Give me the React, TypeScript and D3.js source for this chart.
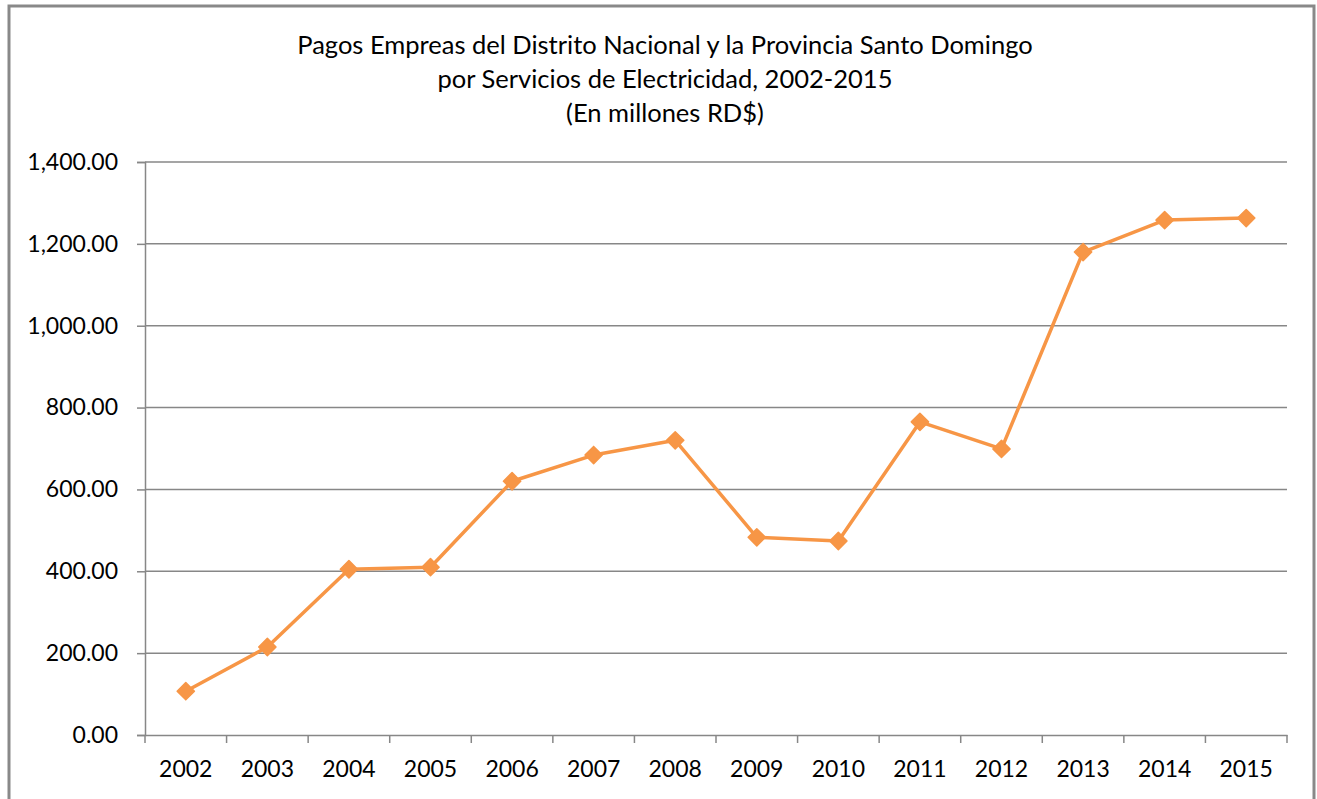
import React, { useEffect, useRef } from "react";
import * as d3 from "d3";

const years = ["2002", "2003", "2004", "2005", "2006", "2007", "2008", "2009", "2010", "2011", "2012", "2013", "2014", "2015"];
const pagos = [107, 215, 405, 410, 620, 684, 720, 483, 474, 765, 699, 1180, 1258, 1263];
const yTicks = [0, 200, 400, 600, 800, 1000, 1200, 1400];
const titleLines = [
  "Pagos Empreas del Distrito Nacional y la Provincia Santo Domingo",
  "por Servicios de Electricidad, 2002-2015",
  "(En millones RD$)",
];

const W = 1317;
const H = 799;
const FONT = "Lato, 'Open Sans', sans-serif";

const App = () => {
  const ref = useRef(null);

  useEffect(() => {
    const svg = d3.select(ref.current);
    svg.selectAll("*").remove();

    const left = 145, right = 1287, top = 162, bottom = 735;
    const x = d3.scaleBand().domain(years).range([left, right]);
    const y = d3.scaleLinear().domain([0, 1400]).range([bottom, top]);
    const grey = "#878787";

    // chart border
    svg.append("rect")
      .attr("x", 9).attr("y", 6)
      .attr("width", 1305).attr("height", 900)
      .attr("fill", "#fff")
      .attr("stroke", "#898989")
      .attr("stroke-width", 3);

    // title
    svg.append("g").selectAll("text").data(titleLines).enter()
      .append("text")
      .attr("x", 665)
      .attr("y", (d, i) => 54 + i * 34)
      .attr("text-anchor", "middle")
      .style("font-family", FONT)
      .style("font-size", "25.5px")
      .attr("fill", "#000")
      .text(d => d);

    // gridlines
    svg.append("g").selectAll("line").data(yTicks.slice(1)).enter()
      .append("line")
      .attr("x1", left).attr("x2", right)
      .attr("y1", d => y(d)).attr("y2", d => y(d))
      .attr("stroke", grey).attr("stroke-width", 1.5);

    // y axis
    const yAxis = svg.append("g")
      .attr("transform", `translate(${left},0)`)
      .call(d3.axisLeft(y).tickValues(yTicks).tickSize(8).tickPadding(19).tickFormat(d3.format(",.2f")));
    yAxis.select(".domain").attr("stroke", grey).attr("stroke-width", 1.5);
    yAxis.selectAll(".tick line").attr("stroke", grey).attr("stroke-width", 1.5);
    yAxis.selectAll("text")
      .style("font-family", FONT).style("font-size", "23px").attr("fill", "#000");

    // x axis
    const xAxis = svg.append("g")
      .attr("transform", `translate(0,${bottom})`)
      .call(d3.axisBottom(x).tickSize(0).tickPadding(26));
    xAxis.select(".domain").attr("stroke", grey).attr("stroke-width", 1.5);
    xAxis.selectAll("text")
      .style("font-family", FONT).style("font-size", "23px").attr("fill", "#000");
    xAxis.selectAll("line.sep").data(d3.range(years.length + 1)).enter()
      .append("line")
      .attr("class", "sep")
      .attr("x1", i => left + i * x.step()).attr("x2", i => left + i * x.step())
      .attr("y1", 0).attr("y2", 8)
      .attr("stroke", grey).attr("stroke-width", 1.5);

    // series
    const cx = (d, i) => x(years[i]) + x.bandwidth() / 2;
    const line = d3.line().x((d, i) => cx(d, i)).y(d => y(d));
    svg.append("path")
      .datum(pagos)
      .attr("d", line)
      .attr("fill", "none")
      .attr("stroke", "#F79646")
      .attr("stroke-width", 3.5)
      .attr("stroke-linejoin", "round");

    svg.append("g").selectAll("path").data(pagos).enter()
      .append("path")
      .attr("d", d3.symbol().type(d3.symbolDiamond2).size(190))
      .attr("transform", (d, i) => `translate(${cx(d, i)},${y(d)})`)
      .attr("fill", "#F79646")
      .attr("stroke", "#F79646")
      .attr("stroke-width", 1.5)
      .attr("stroke-linejoin", "round");
  }, []);

  return (
    <svg ref={ref} width={W} height={H} style={{ position: "absolute", left: 0, top: 0 }} />
  );
};

export default App;
